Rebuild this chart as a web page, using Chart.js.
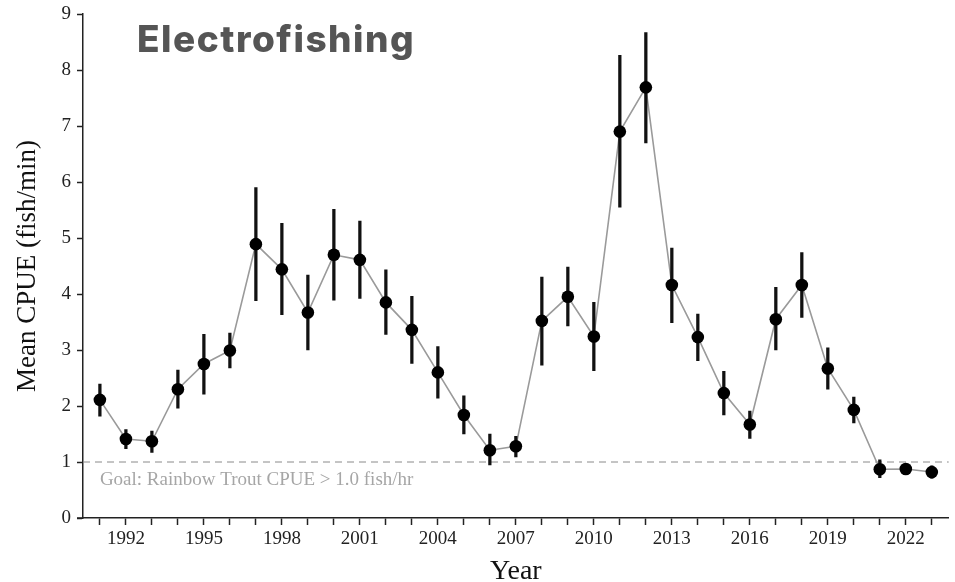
<!DOCTYPE html>
<html>
<head>
<meta charset="utf-8">
<script src="https://cdn.jsdelivr.net/npm/chart.js@4/dist/chart.umd.min.js"></script>
<style>
  body { margin: 0; background: #fff; }
  #wrap { width: 955px; height: 582px; }
</style>
</head>
<body>
<div id="wrap"><canvas id="cpueChart"></canvas></div>
<script>
const years = [1991, 1992, 1993, 1994, 1995, 1996, 1997, 1998, 1999, 2000, 2001, 2002, 2003, 2004, 2005, 2006,
  2007, 2008, 2009, 2010, 2011, 2012, 2013, 2014, 2015, 2016, 2017, 2018, 2019, 2020, 2021, 2022, 2023];
const meanCpue = [2.11, 1.41, 1.37, 2.30, 2.75, 2.99, 4.89, 4.44, 3.67, 4.70, 4.61, 3.85, 3.36, 2.60, 1.84, 1.21,
  1.28, 3.52, 3.95, 3.24, 6.90, 7.69, 4.16, 3.23, 2.23, 1.67, 3.55, 4.16, 2.67, 1.93, 0.87, 0.875, 0.82];
const errHigh = [2.39, 1.58, 1.55, 2.64, 3.28, 3.30, 5.90, 5.26, 4.34, 5.51, 5.30, 4.43, 3.96, 3.06, 2.18, 1.50,
  1.46, 4.30, 4.48, 3.85, 8.26, 8.67, 4.82, 3.64, 2.62, 1.91, 4.12, 4.74, 3.04, 2.16, 1.04, 0.96, 0.93];
const errLow = [1.82, 1.24, 1.17, 1.96, 2.21, 2.68, 3.88, 3.63, 3.00, 3.89, 3.92, 3.28, 2.76, 2.14, 1.50, 0.95,
  1.09, 2.73, 3.43, 2.63, 5.55, 6.70, 3.49, 2.81, 1.84, 1.42, 3.00, 3.58, 2.30, 1.70, 0.72, 0.79, 0.71];
const yTicks = [0, 1, 2, 3, 4, 5, 6, 7, 8, 9];
const goalValue = 1.0;
const goalText = 'Goal: Rainbow Trout CPUE > 1.0 fish/hr';
const titleText = 'Electrofishing';

const serif = '"Liberation Serif", "DejaVu Serif", serif';
Chart.defaults.font.family = serif;

// goal line + its caption, the stub of x axis left of the y axis, and the big title
const extras = {
  id: 'extras',
  beforeDatasetsDraw(chart) {
    const { ctx, chartArea, scales } = chart;
    const y = scales.y.getPixelForValue(goalValue);
    ctx.save();
    ctx.strokeStyle = '#8a8a8a';
    ctx.lineWidth = 1;
    ctx.setLineDash([7, 5]);
    ctx.beginPath();
    ctx.moveTo(chartArea.left, y);
    ctx.lineTo(chartArea.right, y);
    ctx.stroke();
    ctx.setLineDash([]);
    ctx.fillStyle = '#a6a6a6';
    ctx.font = '19px ' + serif;
    ctx.textBaseline = 'middle';
    ctx.fillText(goalText, scales.x.getPixelForValue(years[0]), y + 18);

    ctx.strokeStyle = '#222';
    ctx.lineWidth = 1.5;
    ctx.beginPath();
    ctx.moveTo(chartArea.left - 6, chartArea.bottom);
    ctx.lineTo(chartArea.left, chartArea.bottom);
    ctx.stroke();
    ctx.restore();
  },
  afterDraw(chart) {
    const { ctx, chartArea } = chart;
    ctx.save();
    ctx.fillStyle = '#555555';
    ctx.font = '800 37px Inter, "Open Sans", sans-serif';
    ctx.letterSpacing = '1.5px';
    ctx.textBaseline = 'middle';
    ctx.fillText(titleText, chartArea.left + 54, chartArea.top + 27);
    ctx.restore();
  }
};

new Chart(document.getElementById('cpueChart'), {
  type: 'line',
  data: {
    datasets: [
      {
        type: 'line',
        data: years.map((yr, i) => ({ x: yr, y: meanCpue[i] })),
        borderColor: '#9a9a9a',
        borderWidth: 1.6,
        pointRadius: 0,
        tension: 0,
        order: 3
      },
      {
        type: 'bar',
        data: years.map((yr, i) => ({ x: yr, y: [errLow[i], errHigh[i]] })),
        backgroundColor: '#111',
        barThickness: 2.6,
        order: 2
      },
      {
        type: 'line',
        data: years.map((yr, i) => ({ x: yr, y: meanCpue[i] })),
        showLine: false,
        pointRadius: 6.3,
        pointBackgroundColor: '#000',
        pointBorderWidth: 0,
        order: 1
      }
    ]
  },
  options: {
    responsive: true,
    maintainAspectRatio: false,
    animation: false,
    layout: { padding: { top: 14, right: 5, left: 0, bottom: 0 } },
    plugins: {
      legend: { display: false },
      tooltip: { enabled: false }
    },
    scales: {
      x: {
        type: 'linear',
        offset: false,
        min: 1990.35,
        max: 2023.65,
        afterBuildTicks(scale) { scale.ticks = years.map(v => ({ value: v })); },
        afterFit(scale) { scale.height = 64; },
        border: { display: true, color: '#222', width: 1.5 },
        grid: { offset: false, drawOnChartArea: false, drawTicks: true, tickLength: 7, tickColor: '#222', tickWidth: 1.5 },
        ticks: {
          autoSkip: false,
          maxRotation: 0,
          padding: 3,
          color: '#222',
          font: { family: serif, size: 19 },
          callback: v => ((v - 1992) % 3 === 0 ? String(v) : '')
        },
        title: {
          display: true,
          text: 'Year',
          color: '#111',
          font: { family: serif, size: 28 },
          padding: { top: 5, bottom: -6 }
        }
      },
      y: {
        min: 0,
        max: 9,
        afterBuildTicks(scale) { scale.ticks = yTicks.map(v => ({ value: v })); },
        afterFit(scale) {
          scale.width = 83;
          scale.paddingTop = 0;
          scale.paddingBottom = 0;
        },
        border: { display: true, color: '#222', width: 1.5 },
        grid: { drawOnChartArea: false, drawTicks: true, tickLength: 6, tickColor: '#222', tickWidth: 1.5 },
        ticks: {
          padding: 6,
          color: '#222',
          font: { family: serif, size: 19 }
        },
        title: {
          display: true,
          text: 'Mean CPUE (fish/min)',
          color: '#111',
          font: { family: serif, size: 27 },
          padding: { top: 12, bottom: 4 }
        }
      }
    }
  },
  plugins: [extras]
});
</script>
</body>
</html>
